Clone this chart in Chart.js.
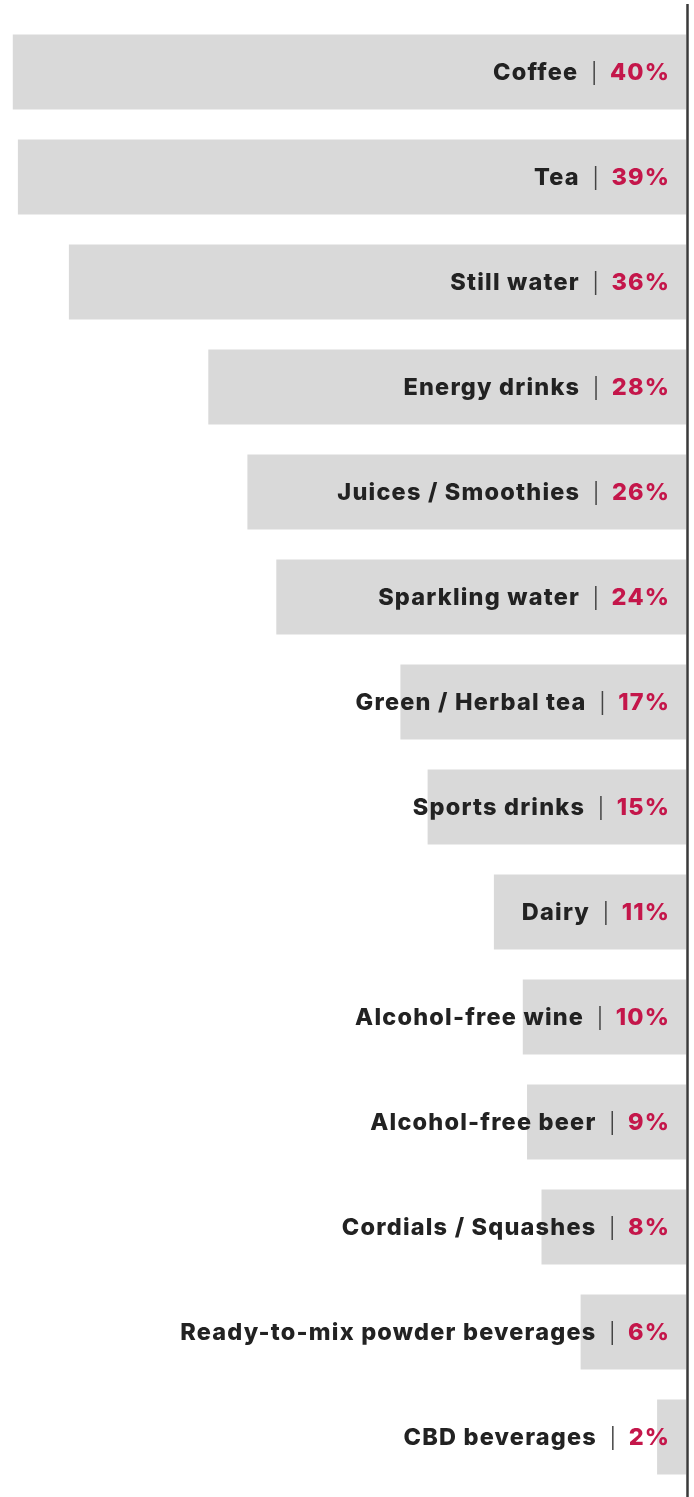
<!DOCTYPE html>
<html>
<head>
<meta charset="utf-8">
<script src="https://cdn.jsdelivr.net/npm/chart.js@4"></script>
<style>
  body { margin: 0; background: #fff; }
  #wrap { width: 694px; height: 1497px; position: relative; }
</style>
</head>
<body>
<div id="wrap"><canvas id="drinkChart"></canvas></div>
<script>
const categories = [
  'Coffee', 'Tea', 'Still water', 'Energy drinks', 'Juices / Smoothies',
  'Sparkling water', 'Green / Herbal tea', 'Sports drinks', 'Dairy',
  'Alcohol-free wine', 'Alcohol-free beer', 'Cordials / Squashes',
  'Ready-to-mix powder beverages', 'CBD beverages'
];
// bar lengths
const shares = [39.6, 39.3, 36.3, 28.1, 25.8, 24.1, 16.8, 15.2, 11.3, 9.6, 9.35, 8.5, 6.2, 1.7];
// the printed percentages
const shareLabels = ['40%', '39%', '36%', '28%', '26%', '24%', '17%', '15%', '11%', '10%', '9%', '8%', '6%', '2%'];

const labelFont = '800 23.5px Inter, "Open Sans", sans-serif';
const spacing = 1.2;

const labelPlugin = {
  id: 'barLabels',
  afterDatasetsDraw(chart) {
    const ctx = chart.ctx;
    const x = chart.scales.x;
    const y = chart.scales.y;
    const zeroX = x.getPixelForValue(0);

    ctx.save();
    // axis line on the right
    ctx.strokeStyle = '#3a3a3a';
    ctx.lineWidth = 2.5;
    ctx.beginPath();
    ctx.moveTo(zeroX + 1.5, 4);
    ctx.lineTo(zeroX + 1.5, chart.height);
    ctx.stroke();

    ctx.textBaseline = 'middle';
    ctx.font = labelFont;
    ctx.letterSpacing = spacing + 'px';
    categories.forEach((cat, i) => {
      const cy = y.getPixelForValue(i) + 1;
      let right = zeroX - 17 + spacing;
      ctx.textAlign = 'right';
      ctx.fillStyle = '#c4164a';
      ctx.fillText(shareLabels[i], right, cy);
      right -= ctx.measureText(shareLabels[i]).width + 17 - spacing;

      ctx.strokeStyle = '#444';
      ctx.lineWidth = 1.5;
      ctx.beginPath();
      ctx.moveTo(right, cy - 12);
      ctx.lineTo(right, cy + 12);
      ctx.stroke();

      right -= 17 - spacing;
      ctx.fillStyle = '#222';
      ctx.fillText(cat, right, cy);
    });
    ctx.restore();
  }
};

new Chart(document.getElementById('drinkChart'), {
  type: 'bar',
  data: {
    labels: categories,
    datasets: [{
      data: shares,
      backgroundColor: '#d9d9d9',
      barPercentage: 1,
      categoryPercentage: 75 / 105
    }]
  },
  options: {
    indexAxis: 'y',
    responsive: true,
    maintainAspectRatio: false,
    animation: false,
    layout: { padding: { top: 19.5, bottom: 7.5, left: 6, right: 8 } },
    plugins: { legend: { display: false }, tooltip: { enabled: false } },
    scales: {
      x: { display: false, reverse: true, min: 0, max: 40 },
      y: { display: false }
    }
  },
  plugins: [labelPlugin]
});
</script>
</body>
</html>
